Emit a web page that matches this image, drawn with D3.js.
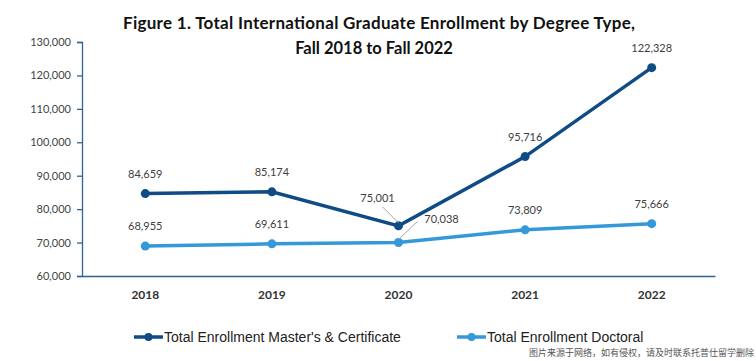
<!DOCTYPE html>
<html>
<head>
<meta charset="utf-8">
<script src="https://cdn.jsdelivr.net/npm/d3@7"></script>
<style>
  body { margin: 0; background: #fff; }
  svg { display: block; }
</style>
</head>
<body>
<svg id="chart" width="756" height="361"></svg>
<script>
const years = ['2018', '2019', '2020', '2021', '2022']
const masters = [84659, 85174, 75001, 95716, 122328]
const doctoral = [68955, 69611, 70038, 73809, 75666]
const yTicks = [60000, 70000, 80000, 90000, 100000, 110000, 120000, 130000]
const seriesNames = ["Total Enrollment Master's & Certificate", 'Total Enrollment Doctoral']
const seriesColors = ['#0f4c85', '#3598d8']

const width = 756, height = 361
const margin = {top: 42, right: 41, bottom: 85, left: 82}

const svg = d3.select('#chart')

const x = d3.scaleBand()
    .domain(years)
    .range([margin.left, width - margin.right])

const y = d3.scaleLinear()
    .domain([60000, 130000])
    .range([height - margin.bottom, margin.top])

const fmt = d3.format(',')

// titulo
svg.append('text')
    .attr('x', 379).attr('y', 29)
    .attr('text-anchor', 'middle')
    .attr('font-family', 'Lato, sans-serif')
    .attr('font-weight', 'bold')
    .attr('font-size', 17)
    .attr('textLength', 512)
    .attr('fill', '#111')
    .text('Figure 1. Total International Graduate Enrollment by Degree Type,')
svg.append('text')
    .attr('x', 374).attr('y', 54)
    .attr('text-anchor', 'middle')
    .attr('font-family', 'Lato, sans-serif')
    .attr('font-weight', 'bold')
    .attr('font-size', 16.5)
    .attr('fill', '#111')
    .text('Fall 2018 to Fall 2022')

// ejes
const yAxis = svg.append('g')
    .attr('transform', `translate(${margin.left},0)`)
    .call(d3.axisLeft(y).tickValues(yTicks).tickFormat(fmt).tickSize(5).tickPadding(6))
yAxis.selectAll('line, path').attr('stroke', '#2f6494').attr('stroke-width', 1.3)
yAxis.selectAll('text')
    .attr('font-family', 'Lato, sans-serif')
    .attr('font-size', 11)
    .attr('fill', '#444')

const xAxis = svg.append('g')
    .attr('transform', `translate(0,${height - margin.bottom})`)
    .call(d3.axisBottom(x).tickSize(0).tickPadding(14))
xAxis.select('.domain').attr('stroke', '#2f6494').attr('stroke-width', 1.3)
xAxis.selectAll('text')
    .attr('font-family', 'Lato, sans-serif')
    .attr('font-weight', 'bold')
    .attr('font-size', 12)
    .attr('fill', '#333')

// lineas
const cx = d => x(d.year) + x.bandwidth() / 2
const line = d3.line().x(cx).y(d => y(d.value))

const series = [masters, doctoral].map((vals, i) => ({
    name: seriesNames[i],
    color: seriesColors[i],
    points: vals.map((v, j) => ({year: years[j], value: v}))
}))

series.forEach(s => {
    svg.append('path')
        .datum(s.points)
        .attr('d', line)
        .attr('fill', 'none')
        .attr('stroke', s.color)
        .attr('stroke-width', 3.5)
    svg.selectAll(null)
        .data(s.points)
        .join('circle')
        .attr('cx', cx)
        .attr('cy', d => y(d.value))
        .attr('r', 4.5)
        .attr('fill', s.color)
})

// etiquetas (2020 con linea guia)
const labelOffsets = [
    [[0, -16], [0, -16], [-21, -24], [0, -16], [0, -16]],
    [[0, -16], [0, -16], [43, -19], [0, -16], [0, -16]]
]
series.forEach((s, i) => {
    s.points.forEach((d, j) => {
        const [dx, dy] = labelOffsets[i][j]
        const px = cx(d), py = y(d.value)
        if (j === 2) {
            const ex = i === 0 ? px - 16 : px + 19
            const ey = i === 0 ? py - 19 : py - 21
            svg.append('line')
                .attr('x1', px).attr('y1', py - 3)
                .attr('x2', ex).attr('y2', ey)
                .attr('stroke', '#a6a6a6').attr('stroke-width', 1)
        }
        svg.append('text')
            .attr('x', px + dx).attr('y', py + dy)
            .attr('text-anchor', 'middle')
            .attr('font-family', 'Lato, sans-serif')
            .attr('font-size', 11)
            .attr('fill', '#404040')
            .text(fmt(d.value))
    })
})

// leyenda
const legendX = [134, 457]
series.forEach((s, i) => {
    const g = svg.append('g').attr('transform', `translate(${legendX[i]},337)`)
    g.append('line').attr('x1', 0).attr('x2', 29).attr('y1', 0).attr('y2', 0)
        .attr('stroke', s.color).attr('stroke-width', 3.5)
    g.append('circle').attr('cx', 14.5).attr('cy', 0).attr('r', 4).attr('fill', s.color)
    g.append('text')
        .attr('x', 30).attr('y', 5)
        .attr('font-family', '"Liberation Sans", Arial, sans-serif')
        .attr('font-size', 14)
        .attr('fill', '#222')
        .text(s.name)
})

// marca de agua
svg.append('text')
    .attr('x', 754).attr('y', 356)
    .attr('text-anchor', 'end')
    .attr('font-family', '"Noto Sans CJK SC", sans-serif')
    .attr('font-size', 9)
    .attr('fill', '#555')
    .text('图片来源于网络，如有侵权，请及时联系托普仕留学删除')
</script>
</body>
</html>
